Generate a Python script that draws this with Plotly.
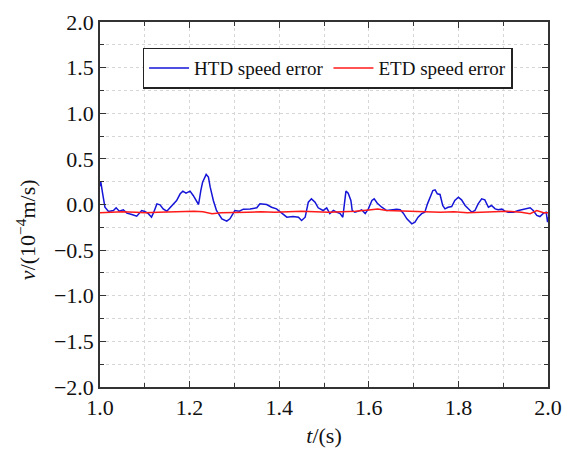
import plotly.graph_objects as go

htd_t = [1.0, 1.0015, 1.006, 1.011, 1.019, 1.03, 1.036, 1.043, 1.052, 1.06, 1.071, 1.082, 1.093, 1.10,
         1.108, 1.115, 1.12, 1.127, 1.134, 1.141, 1.149, 1.156, 1.164, 1.171, 1.179, 1.185, 1.192,
         1.201, 1.208, 1.216, 1.22, 1.225, 1.229, 1.237, 1.242, 1.246, 1.253, 1.26, 1.272, 1.283,
         1.29, 1.301, 1.311, 1.32, 1.335, 1.35, 1.357, 1.372, 1.383, 1.394, 1.406, 1.417, 1.431,
         1.443, 1.45, 1.458, 1.465, 1.472, 1.48, 1.487, 1.498, 1.506, 1.513, 1.521, 1.528, 1.536,
         1.542, 1.545, 1.549, 1.554, 1.56, 1.563, 1.569, 1.577, 1.584, 1.592, 1.599, 1.607, 1.612,
         1.619, 1.629, 1.64, 1.651, 1.662, 1.67, 1.677, 1.685, 1.696, 1.703, 1.71, 1.718, 1.725,
         1.731, 1.737, 1.743, 1.748, 1.753, 1.759, 1.765, 1.77, 1.777, 1.785, 1.792, 1.80, 1.807,
         1.815, 1.822, 1.83, 1.837, 1.844, 1.852, 1.859, 1.867, 1.874, 1.882, 1.889, 1.897, 1.904,
         1.911, 1.923, 1.934, 1.941, 1.949, 1.96, 1.967, 1.975, 1.982, 1.99, 1.996, 1.999, 2.0]
htd_v = [0.20, 0.255, 0.117, -0.03, -0.077, -0.066, -0.036, -0.073, -0.058, -0.095, -0.11, -0.128,
         -0.066, -0.077, -0.10, -0.139, -0.084, 0.007, -0.004, -0.048, -0.073, -0.036, 0.007, 0.044,
         0.117, 0.146, 0.124, 0.146, 0.099, 0.025, 0.0, 0.153, 0.244, 0.329, 0.30, 0.19, 0.044,
         -0.066, -0.157, -0.183, -0.157, -0.066, -0.073, -0.051, -0.048, -0.036, 0.007, 0.0, -0.03,
         -0.048, -0.095, -0.139, -0.132, -0.139, -0.175, -0.139, 0.025, 0.062, 0.025, -0.036,
         -0.066, -0.036, -0.10, -0.066, -0.084, -0.10, -0.139, 0.007, 0.146, 0.124, 0.044, -0.066,
         -0.084, -0.073, -0.058, -0.10, -0.048, 0.044, 0.062, 0.014, -0.03, -0.066, -0.058, -0.051,
         -0.058, -0.095, -0.157, -0.212, -0.194, -0.139, -0.10, -0.084, 0.007, 0.08, 0.153, 0.161,
         0.117, 0.11, -0.011, -0.048, -0.03, -0.022, 0.044, 0.08, 0.051, -0.011, -0.048, -0.084,
         -0.066, 0.007, 0.062, 0.051, -0.03, -0.011, -0.048, -0.058, -0.051, -0.073, -0.084, -0.084,
         -0.066, -0.058, -0.048, -0.036, -0.066, -0.12, -0.132, -0.095, -0.084, -0.194, -0.139]

etd_t = [1.0, 1.02, 1.05, 1.08, 1.10, 1.13, 1.16, 1.19, 1.21, 1.23, 1.25, 1.27, 1.30, 1.33, 1.36,
         1.39, 1.42, 1.45, 1.48, 1.51, 1.54, 1.57, 1.60, 1.62, 1.64, 1.67, 1.70, 1.73, 1.76, 1.79,
         1.82, 1.85, 1.88, 1.91, 1.94, 1.96, 1.975, 1.99, 2.0]
etd_v = [-0.09, -0.085, -0.08, -0.085, -0.09, -0.085, -0.08, -0.08, -0.075, -0.08, -0.10, -0.09,
         -0.09, -0.085, -0.08, -0.085, -0.08, -0.075, -0.08, -0.085, -0.08, -0.075, -0.06, -0.05,
         -0.065, -0.07, -0.075, -0.08, -0.085, -0.08, -0.09, -0.085, -0.08, -0.075, -0.085, -0.10,
         -0.066, -0.09, -0.09]

x_ticks = [1.0, 1.2, 1.4, 1.6, 1.8, 2.0]
y_ticks = [-2.0, -1.5, -1.0, -0.5, 0.0, 0.5, 1.0, 1.5, 2.0]

font = "Liberation Serif"

fig = go.Figure()
fig.add_trace(go.Scatter(x=htd_t, y=htd_v, mode="lines", name="HTD speed error",
                         line=dict(color="#1515d8", width=1.5)))
fig.add_trace(go.Scatter(x=etd_t, y=etd_v, mode="lines", name="ETD speed error",
                         line=dict(color="#ff1a1a", width=1.5)))

axis_common = dict(
    showline=True, linecolor="#333333", linewidth=1.5, mirror="ticks",
    ticks="inside", ticklen=6, tickwidth=1.2, tickcolor="#333333",
    showgrid=True, gridcolor="#d6d6d6", griddash="dot", gridwidth=1,
    zeroline=False, automargin=False,
    tickfont=dict(family=font, size=22, color="#111111"),
)

fig.update_xaxes(range=[1.0, 2.0], tickvals=x_ticks, ticktext=[f"{v:.1f}" for v in x_ticks],
                 minor=dict(dtick=0.1, tick0=1.0, ticks="inside", ticklen=4, tickcolor="#333333",
                            showgrid=True, gridcolor="#d6d6d6", griddash="dot"),
                 title=dict(text="<i>t</i>/(s)", font=dict(family=font, size=22, color="#111111"),
                            standoff=8),
                 **axis_common)
fig.update_yaxes(range=[-2.0, 2.0], tickvals=y_ticks,
                 ticktext=[f"{v:.1f}".replace("-", "\u2212") for v in y_ticks],
                 minor=dict(dtick=0.25, tick0=0, ticks="inside", ticklen=4, tickcolor="#333333",
                            showgrid=True, gridcolor="#d6d6d6", griddash="dot"),
                 **axis_common)

fig.add_annotation(text="<i>v</i>/(10<sup>\u22124</sup>m/s)", xref="paper", yref="paper",
                   x=-0.165, y=0.43, xanchor="center", yanchor="middle", textangle=-90,
                   showarrow=False, font=dict(family=font, size=22, color="#111111"))

fig.update_layout(
    width=565, height=452,
    margin=dict(l=100, r=17, t=22, b=65),
    paper_bgcolor="white", plot_bgcolor="white",
    font=dict(family=font, color="#111111"),
    legend=dict(orientation="h", x=0.095, y=0.93, xanchor="left", yanchor="top",
                bgcolor="white", bordercolor="#222222", borderwidth=1.5,
                font=dict(family=font, size=19, color="#111111"),
                itemwidth=40, tracegroupgap=0),
    showlegend=True,
)

fig.write_html("out.html", config={"displayModeBar": False},
               post_script="document.body.style.margin='0';")
